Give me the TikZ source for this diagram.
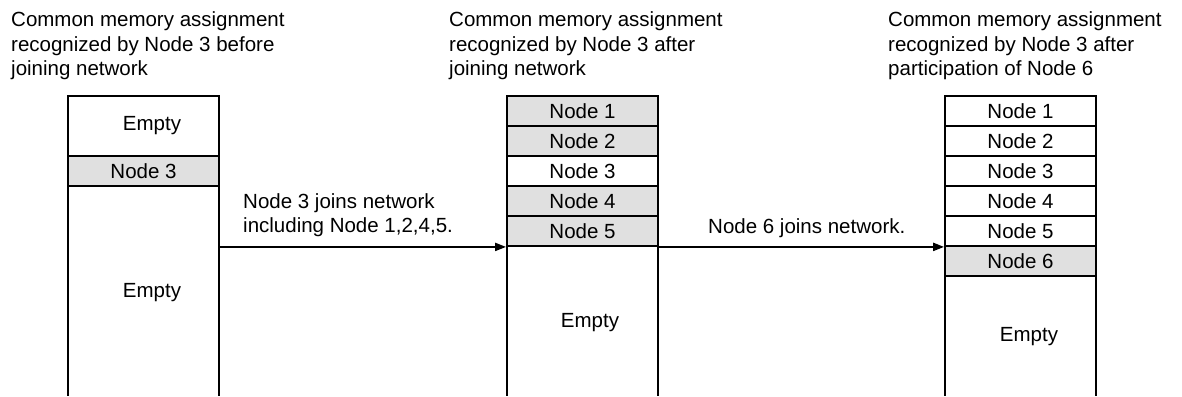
\documentclass[tikz,border=0pt]{standalone}
\usepackage{fontspec}
\setmainfont{Liberation Sans}
\usetikzlibrary{arrows.meta}
\definecolor{cellgray}{RGB}{224,224,224}
\tikzset{
  x=1pt, y=-1pt,
  every node/.style={font=\fontsize{20.5}{24}\selectfont},
  cell/.style={draw, line width=1.8pt, minimum width=151pt, minimum height=30pt, inner sep=0pt, anchor=center},
  grey/.style={fill=cellgray},
  region/.style={minimum width=151pt, inner sep=0pt, anchor=north},
  side/.style={line width=1.8pt},
  title/.style={anchor=base west, align=left, inner sep=0pt},
  label/.style={anchor=base west, align=left, inner sep=0pt},
  flow/.style={line width=2pt, -{Triangle[length=11pt,width=8pt]}},
}
\begin{document}
\begin{tikzpicture}
\useasboundingbox (0,0) rectangle (1182,396);

% titles (base anchor = baseline of the last line)
\node[title] (t1) at (11,75) {Common memory assignment\\recognized by Node 3 before\\joining network};
\node[title] (t2) at (449,75) {Common memory assignment\\recognized by Node 3 after\\joining network};
\node[title] (t3) at (888,75) {Common memory assignment\\recognized by Node 3 after\\participation of Node 6};

% box 1
\node[cell, minimum height=60pt] (a0) at (143.5,126) {};
\node (a0t) at (152,126) {Empty};
\node[cell, grey] (a3) at (143.5,171) {Node 3};
\node[region, minimum height=210pt] (alow) at (143.5,186) {};
\node (alowt) at (152,293) {Empty};
\draw[side] (alow.north west) -- (alow.south west);
\draw[side] (alow.north east) -- (alow.south east);

% box 2
\node[cell, grey] (b1) at (582.5,111) {Node 1};
\node[cell, grey] (b2) at (582.5,141) {Node 2};
\node[cell] (b3) at (582.5,171) {Node 3};
\node[cell, grey] (b4) at (582.5,201) {Node 4};
\node[cell, grey] (b5) at (582.5,231) {Node 5};
\node[region, minimum height=150pt] (blow) at (582.5,246) {};
\node (blowt) at (590,323) {Empty};
\draw[side] (blow.north west) -- (blow.south west);
\draw[side] (blow.north east) -- (blow.south east);

% box 3
\node[cell] (c1) at (1020.5,111) {Node 1};
\node[cell] (c2) at (1020.5,141) {Node 2};
\node[cell] (c3) at (1020.5,171) {Node 3};
\node[cell] (c4) at (1020.5,201) {Node 4};
\node[cell] (c5) at (1020.5,231) {Node 5};
\node[cell, grey] (c6) at (1020.5,261) {Node 6};
\node[region, minimum height=120pt] (clow) at (1020.5,276) {};
\node (clowt) at (1029,337) {Empty};
\draw[side] (clow.north west) -- (clow.south west);
\draw[side] (clow.north east) -- (clow.south east);

% arrows
\draw[flow] (alow.east |- b5.south west) -- (b5.south west);
\draw[flow] (b5.south east) -- (c5.south west);

% arrow labels
\node[label] (l1) at (243,232) {Node 3 joins network\\including Node 1,2,4,5.};
\node[label] (l2) at (708,233) {Node 6 joins network.};
\end{tikzpicture}
\end{document}
